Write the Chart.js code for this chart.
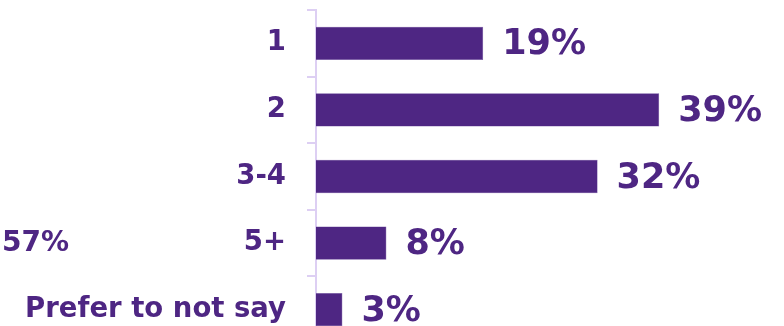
<!DOCTYPE html>
<html lang="en">
<head>
    <meta charset="UTF-8">
    <title>Household size</title>
    <style>
        html, body {
            margin: 0;
            padding: 0;
            background: #fff;
            overflow: hidden;
        }
        #wrap {
            width: 784px;
            height: 326px;
            overflow: hidden;
        }
        #barChart {
            display: block;
            width: 784px;
            height: 343px;
        }
    </style>
    <script src="https://cdn.jsdelivr.net/npm/chart.js"></script>
</head>
<body>
    <div id="wrap">
        <canvas id="barChart" width="784" height="343"></canvas>
    </div>

    <script>
        // Data
        const categories = ['1', '2', '3-4', '5+', 'Prefer to not say'];
        const shares = [19, 39, 32, 8, 3];
        const strayLabel = '57%';     // leftover label seen beside "5+"
        const strayRow = '5+';

        const purple = '#4E2683';
        const axisColor = '#DDCFF3';
        const fontFamily = '"DejaVu Sans", Verdana, sans-serif';

        // draws "19%" etc. after each bar, and the stray label
        const valueLabels = {
            id: 'valueLabels',
            afterDatasetsDraw(chart) {
                const ctx = chart.ctx;
                const meta = chart.getDatasetMeta(0);
                ctx.save();
                ctx.fillStyle = purple;
                ctx.textBaseline = 'middle';
                ctx.textAlign = 'left';
                ctx.font = 'bold 35px ' + fontFamily;
                meta.data.forEach((bar, i) => {
                    ctx.fillText(shares[i] + '%', bar.x + 19, bar.y + 2);
                });
                const yScale = chart.scales.y;
                ctx.font = 'bold 28px ' + fontFamily;
                ctx.fillText(strayLabel, 2, yScale.getPixelForValue(categories.indexOf(strayRow)) + 1);
                ctx.restore();
            }
        };

        new Chart(document.getElementById('barChart'), {
            type: 'bar',
            data: {
                labels: categories,
                datasets: [{
                    data: shares,
                    backgroundColor: purple,
                    borderColor: '#6A4A9C',
                    borderWidth: 0.5,
                    barPercentage: 0.5,
                    categoryPercentage: 1
                }]
            },
            options: {
                indexAxis: 'y',
                responsive: false,
                animation: false,
                layout: {
                    padding: { top: 10, right: 28, bottom: 0, left: 0 }
                },
                plugins: {
                    legend: { display: false },
                    tooltip: { enabled: false }
                },
                scales: {
                    x: {
                        display: false,
                        min: 0,
                        max: 50
                    },
                    y: {
                        afterFit(scale) {
                            scale.width = 316;
                            scale.paddingTop = 0;
                            scale.paddingBottom = 0;
                        },
                        border: { color: axisColor, width: 2 },
                        grid: {
                            drawOnChartArea: false,
                            color: axisColor,
                            lineWidth: 2,
                            tickLength: 9
                        },
                        ticks: {
                            padding: 21,
                            color: purple,
                            font: { family: fontFamily, size: 27.5, weight: 'bold' }
                        }
                    }
                }
            },
            plugins: [valueLabels]
        });
    </script>
</body>
</html>
